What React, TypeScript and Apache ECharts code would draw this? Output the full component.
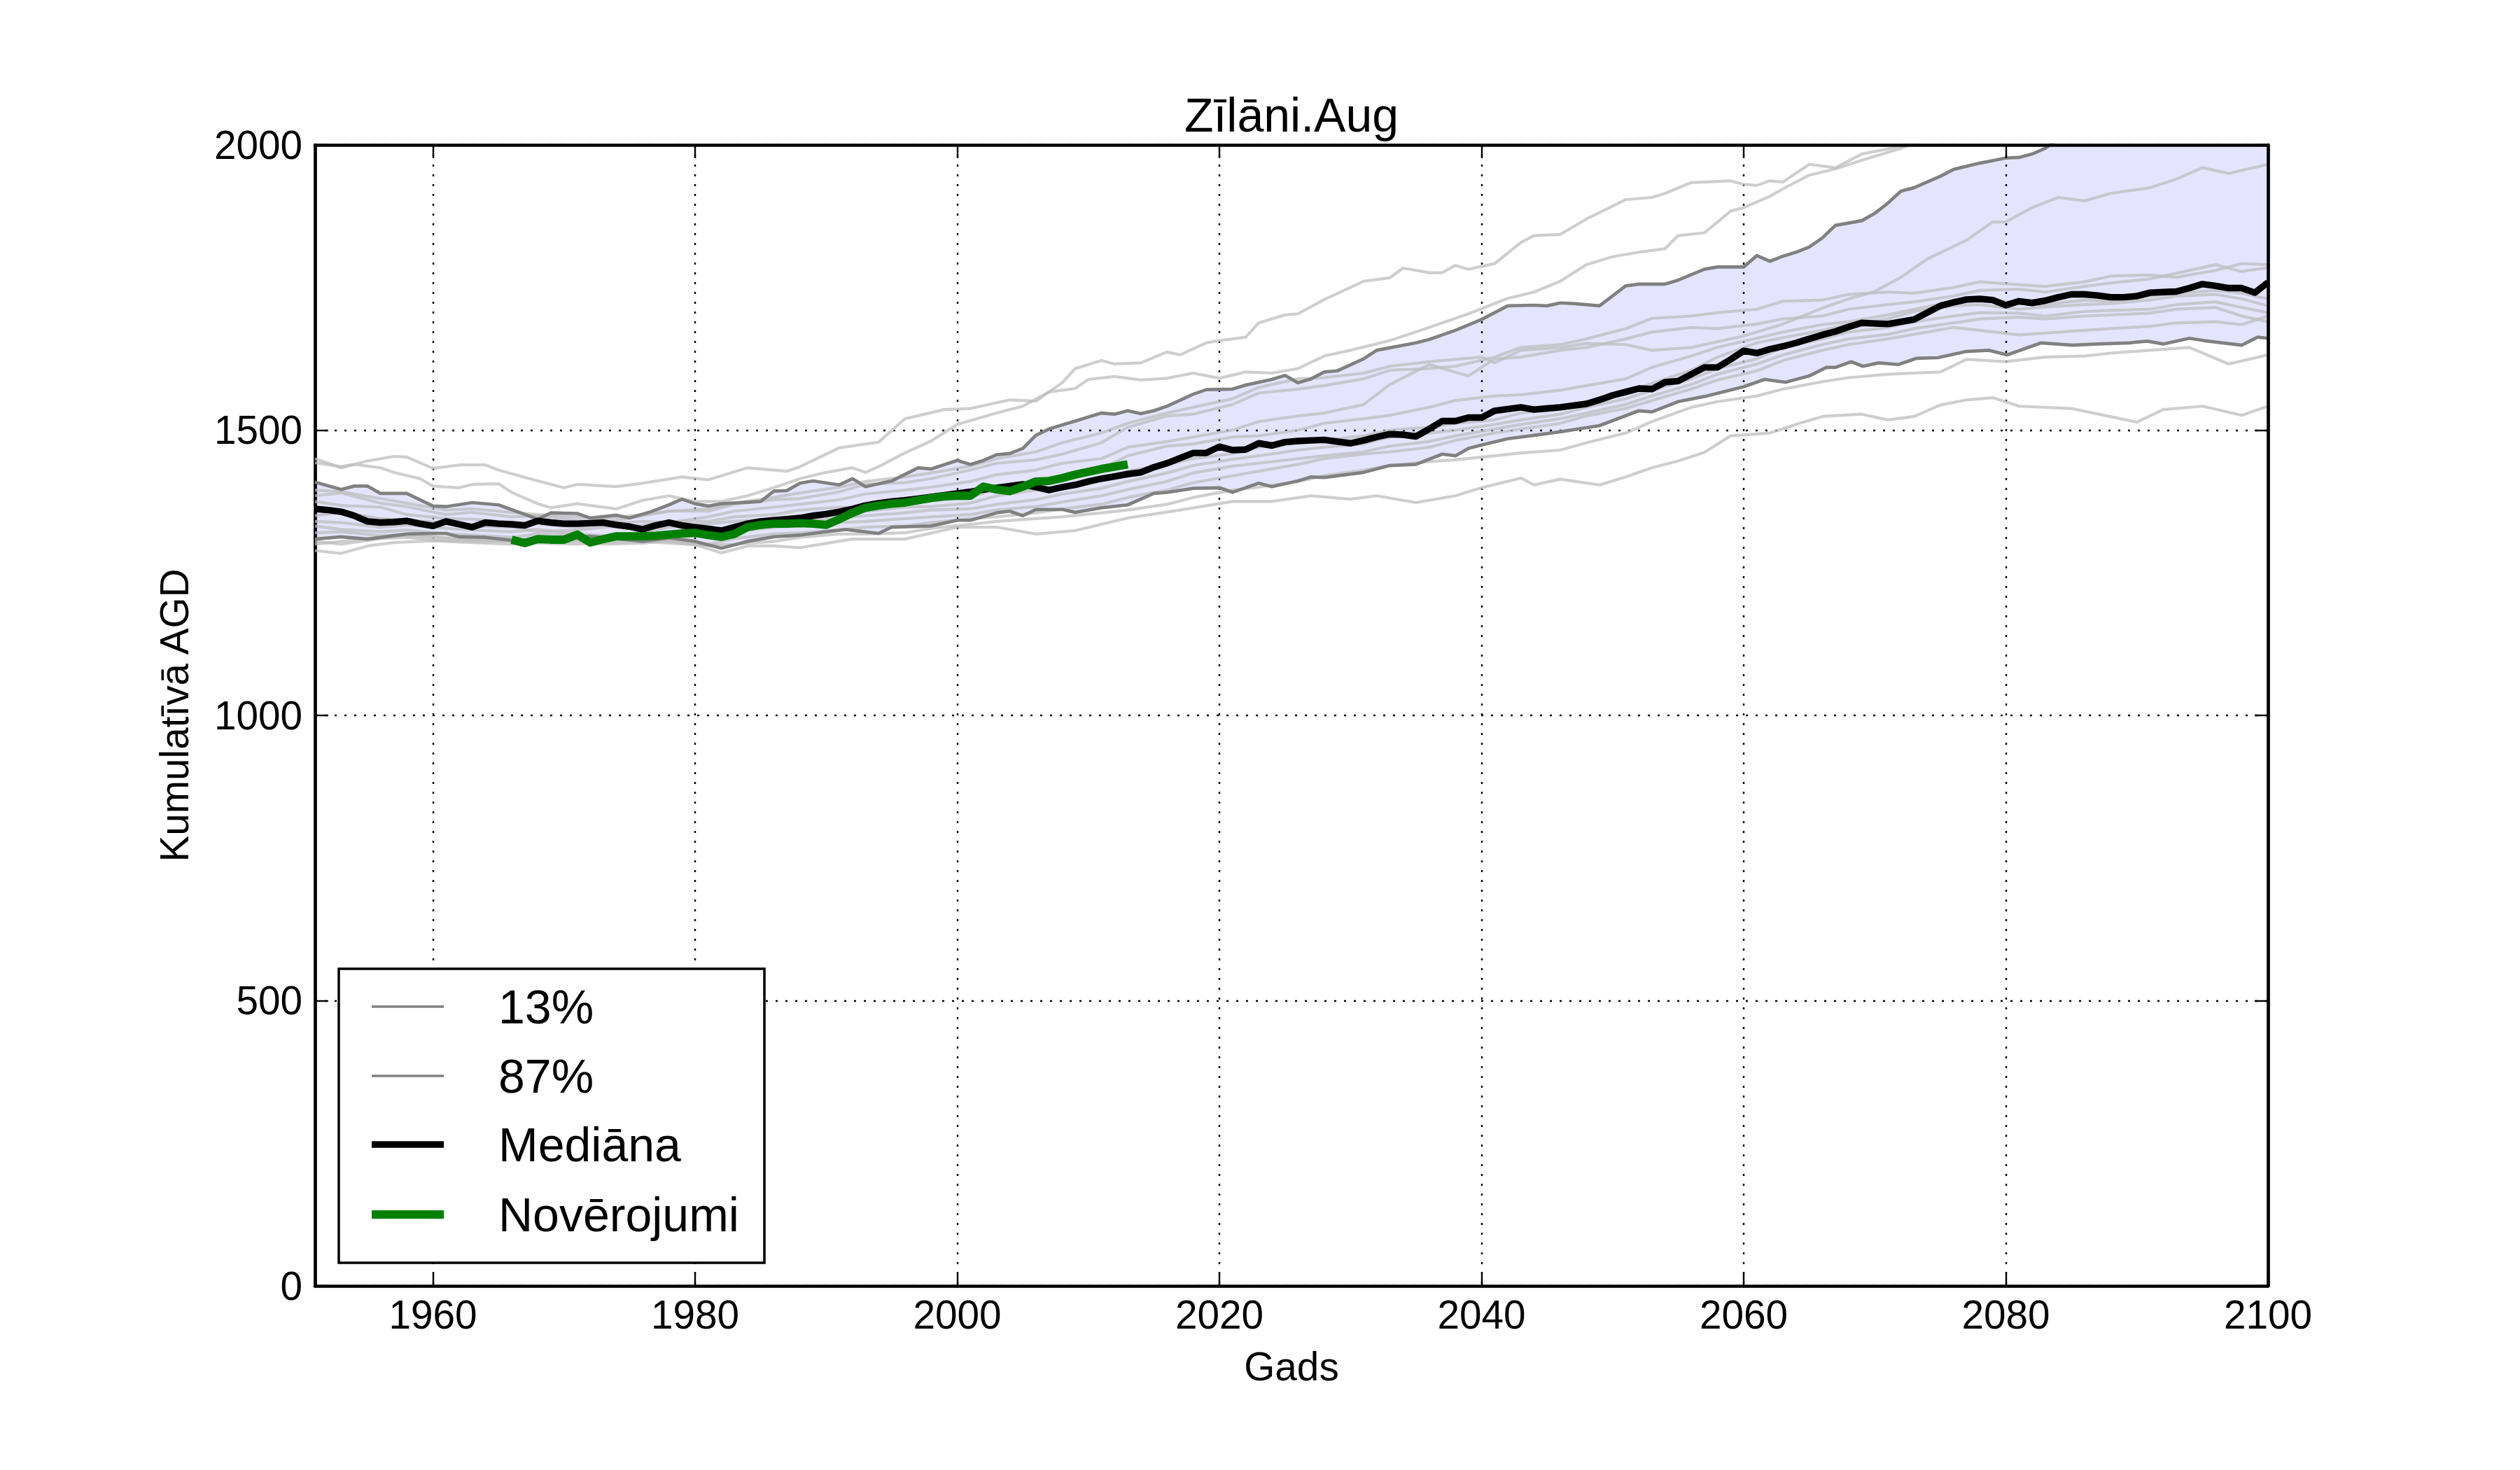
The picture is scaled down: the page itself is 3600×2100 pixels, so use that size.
import React, { useEffect, useRef } from "react";
import * as echarts from "echarts";

const FONT = "'Liberation Sans', Arial, Helvetica, sans-serif";

const xTicks = [1960, 1980, 2000, 2020, 2040, 2060, 2080, 2100];
const yMin = 0;
const yMax = 2000;
const yStep = 500;
const titleText = "Zīlāni.Aug";
const xName = "Gads";
const yName = "Kumulatīvā AGD";
const legendLabels = ["13%", "87%", "Mediāna", "Novērojumi"];

const median = [
  [1951,1362],[1952,1360],[1953,1357],[1954,1350],[1955,1340],[1956,1338],[1957,1339],[1958,1341],[1959,1336],[1960,1332],
  [1961,1340],[1962,1335],[1963,1330],[1964,1338],[1965,1336],[1966,1335],[1967,1333],[1968,1341],[1969,1338],[1970,1336],
  [1971,1336],[1972,1337],[1973,1338],[1974,1334],[1975,1331],[1976,1326],[1977,1333],[1978,1338],[1979,1333],[1980,1330],
  [1981,1327],[1982,1324],[1983,1330],[1984,1336],[1985,1340],[1986,1342],[1987,1344],[1988,1346],[1989,1350],[1990,1353],
  [1991,1357],[1992,1362],[1993,1368],[1994,1372],[1995,1375],[1996,1377],[1997,1380],[1998,1383],[1999,1386],[2000,1389],
  [2001,1392],[2002,1396],[2003,1399],[2004,1402],[2005,1405],[2006,1400],[2007,1395],[2008,1400],[2009,1404],[2010,1410],
  [2011,1415],[2012,1419],[2013,1423],[2014,1426],[2015,1435],[2016,1442],[2017,1451],[2018,1460],[2019,1460],[2020,1471],
  [2021,1465],[2022,1466],[2023,1477],[2024,1473],[2025,1479],[2026,1481],[2027,1482],[2028,1483],[2029,1480],[2030,1477],
  [2031,1482],[2032,1488],[2033,1493],[2034,1492],[2035,1489],[2036,1502],[2037,1516],[2038,1516],[2039,1522],[2040,1522],
  [2041,1534],[2042,1537],[2043,1540],[2044,1536],[2045,1538],[2046,1540],[2047,1543],[2048,1546],[2049,1553],[2050,1561],
  [2051,1567],[2052,1573],[2053,1572],[2054,1584],[2055,1586],[2056,1598],[2057,1610],[2058,1610],[2059,1624],[2060,1639],
  [2061,1635],[2062,1642],[2063,1647],[2064,1653],[2065,1660],[2066,1667],[2067,1673],[2068,1681],[2069,1688],[2070,1687],
  [2071,1686],[2072,1690],[2073,1694],[2074,1706],[2075,1718],[2076,1724],[2077,1729],[2078,1730],[2079,1728],[2080,1719],
  [2081,1726],[2082,1723],[2083,1727],[2084,1733],[2085,1738],[2086,1738],[2087,1736],[2088,1733],[2089,1733],[2090,1735],
  [2091,1741],[2092,1742],[2093,1743],[2094,1749],[2095,1756],[2096,1753],[2097,1749],[2098,1749],[2099,1741],[2100,1759]
];

const observed = [
  [1966,1308],[1967,1302],[1968,1309],[1969,1308],[1970,1308],[1971,1317],[1972,1303],[1973,1309],[1974,1314],[1975,1314],
  [1976,1314],[1977,1315],[1978,1317],[1979,1319],[1980,1320],[1981,1316],[1982,1313],[1983,1318],[1984,1330],[1985,1334],
  [1986,1336],[1987,1336],[1988,1337],[1989,1336],[1990,1334],[1991,1344],[1992,1355],[1993,1364],[1994,1368],[1995,1371],
  [1996,1373],[1997,1377],[1998,1381],[1999,1384],[2000,1385],[2001,1385],[2002,1401],[2003,1396],[2004,1393],[2005,1401],
  [2006,1410],[2007,1411],[2008,1416],[2009,1422],[2010,1427],[2011,1432],[2012,1436],[2013,1440]
];

const p13 = [
  [1951,1309],[1953,1313],[1955,1309],[1958,1318],[1960,1319],[1961,1319],[1962,1313],[1964,1312],[1966,1307],[1969,1309],
  [1972,1314],[1974,1310],[1976,1305],[1978,1311],[1980,1305],[1982,1293],[1984,1305],[1986,1313],[1988,1316],[1990,1322],
  [1991.5,1326],[1994,1319],[1995,1330],[1998,1332],[2000,1342],[2001,1342],[2003,1355],[2004,1358],[2005,1350],[2006,1361],
  [2008,1361],[2009,1356],[2011,1364],[2013,1369],[2015,1389],[2016,1391],[2018,1398],[2020,1399],[2021,1391],[2023,1407],
  [2024,1401],[2026,1411],[2027,1418],[2028,1417],[2031,1426],[2033,1438],[2035,1440],[2037,1458],[2038,1455],[2039,1468],
  [2040,1474],[2042,1485],[2044,1491],[2046,1497],[2049,1508],[2052,1534],[2053,1532],[2055,1550],[2057,1559],[2060,1576],
  [2061.6,1589],[2063.2,1584],[2065,1595],[2066.3,1610],[2067,1610],[2068.2,1620],[2069.1,1612],[2070.3,1618],[2071.8,1615],
  [2073.2,1626],[2074.8,1627],[2077,1638],[2078.7,1640],[2080.1,1632],[2082.7,1653],[2085.1,1649],[2087,1651],[2089.4,1653],
  [2090.8,1656],[2092,1651],[2094,1661],[2095.1,1657],[2098,1649],[2099.2,1663],[2100,1661]
];

const p87 = [
  [1951,1409],[1953,1396],[1954,1402],[1955,1402],[1956,1389],[1958,1389],[1960,1367],[1961,1366],[1963,1373],[1965,1369],
  [1968,1344],[1969,1355],[1971,1354],[1972,1346],[1974,1351],[1975,1346],[1976.5,1356],[1978,1369],[1979,1379],[1980,1371],
  [1981,1367],[1982,1371],[1985,1375],[1986,1393],[1987,1394],[1988,1407],[1989,1411],[1991,1404],[1992,1415],[1993,1401],
  [1995,1411],[1997,1434],[1998,1432],[2000,1447],[2001,1440],[2002,1447],[2003,1457],[2004,1459],[2005,1468],[2006,1491],
  [2007,1502],[2009,1516],[2011,1530],[2012,1528],[2013,1534],[2014,1529],[2015,1534],[2016,1542],[2018,1563],[2019,1571],
  [2021,1572],[2022,1579],[2024,1589],[2025,1596],[2026,1583],[2027,1590],[2028,1602],[2029,1604],[2031,1625],[2032,1640],
  [2035,1653],[2036,1659],[2038,1675],[2040,1694],[2042,1718],[2044,1719],[2045,1718],[2046,1723],[2047,1722],[2049,1718],
  [2051,1753],[2052,1756],[2054,1756],[2055,1763],[2057,1782],[2058,1786],[2060,1786],[2061,1806],[2062,1796],[2063,1805],
  [2064,1812],[2065,1821],[2066,1837],[2067,1859],[2069,1867],[2070,1880],[2071,1898],[2072,1919],[2073,1925],[2075,1945],
  [2076,1957],[2078,1968],[2080,1977],[2081,1978],[2082,1984],[2083,1994],[2084,2010],[2088,2040],[2094,2080],[2100,2110]
];

const runT1 = [
  [1951,1450],[1953,1434],[1955,1446],[1957,1454],[1958,1453],[1960,1433],[1962,1439],[1964,1439],[1965,1430],[1968,1411],
  [1970,1399],[1971,1405],[1974,1401],[1976,1407],[1979,1418],[1981,1413],[1984,1434],[1987,1428],[1988,1436],[1991,1469],
  [1994,1479],[1996,1520],[1999,1536],[2001,1538],[2004,1553],[2006,1551],[2008,1583],[2009,1608],[2011,1622],[2012,1616],
  [2014,1618],[2016,1637],[2017,1632],[2019,1653],[2020,1657],[2022,1663],[2023,1688],[2025,1702],[2026,1704],[2028,1729],
  [2031,1761],[2033,1767],[2034,1784],[2036,1776],[2037,1776],[2038,1789],[2039,1782],[2041,1792],[2043,1829],[2044,1841],
  [2046,1843],[2048,1870],[2051,1904],[2053,1908],[2054,1915],[2056,1934],[2059,1937],[2060,1931],[2061,1929],[2062,1937],
  [2063,1935],[2065,1966],[2067,1960],[2069,1984],[2071,1993],[2073,2002],[2076,2020],[2080,2040],[2090,2080],[2100,2110]
];

const runT2 = [
  [1951,1443],[1953,1436],[1954,1440],[1956,1434],[1957,1426],[1959,1415],[1960,1402],[1962,1399],[1963,1405],[1965,1406],
  [1966,1391],[1968,1371],[1969,1364],[1971,1371],[1974,1362],[1976,1377],[1978,1385],[1980,1375],[1982,1375],[1984,1385],
  [1986,1399],[1988,1415],[1990,1426],[1992,1434],[1993,1426],[1994,1436],[1996,1460],[1998,1481],[2000,1510],[2003,1530],
  [2005,1542],[2007,1567],[2009,1573],[2010,1589],[2012,1594],[2014,1588],[2016,1591],[2018,1600],[2020,1591],[2022,1602],
  [2024,1600],[2026,1608],[2028,1630],[2030,1640],[2033,1657],[2036,1680],[2039,1704],[2042,1731],[2044,1742],[2046,1761],
  [2048,1790],[2050,1804],[2052,1812],[2054,1818],[2055,1841],[2057,1846],[2059,1884],[2060,1890],[2061,1900],[2062,1910],
  [2063,1923],[2065,1947],[2067,1958],[2069,1973],[2072,1994],[2074,2010],[2080,2060],[2090,2120],[2100,2160]
];

const runA = [
  [1951,1395],[1953,1392],[1956,1380],[1958,1372],[1961,1360],[1963,1362],[1966,1356],[1968,1352],[1971,1348],[1973,1345],
  [1976,1352],[1978,1358],[1981,1362],[1983,1372],[1986,1382],[1988,1390],[1991,1400],[1993,1410],[1996,1418],[1998,1425],
  [2001,1437],[2003,1450],[2006,1462],[2008,1478],[2011,1495],[2013,1512],[2016,1530],[2018,1540],[2021,1555],[2023,1575],
  [2026,1590],[2028,1592],[2031,1600],[2033,1612],[2036,1620],[2040,1628],[2041,1618],[2043,1640],[2046,1645],[2048,1652],
  [2051,1650],[2053,1640],[2056,1645],[2060,1665],[2063,1686],[2066,1714],[2068,1730],[2070,1743],[2072,1768],[2074,1800],
  [2077,1833],[2079,1865],[2080,1865],[2082,1890],[2084,1908],[2086,1902],[2088,1915],[2091,1925],[2093,1940],[2095,1960],
  [2097,1950],[2100,1966]
];

const runI1 = [
  [1951,1385],[1953,1390],[1956,1372],[1958,1366],[1961,1352],[1963,1356],[1966,1348],[1968,1350],[1971,1342],[1973,1338],
  [1976,1350],[1978,1358],[1981,1358],[1983,1370],[1986,1378],[1988,1380],[1991,1392],[1993,1405],[1996,1408],[1998,1415],
  [2001,1430],[2003,1442],[2006,1448],[2008,1458],[2011,1478],[2013,1505],[2016,1525],[2018,1528],[2021,1545],[2023,1565],
  [2026,1572],[2028,1578],[2031,1590],[2033,1605],[2036,1608],[2038,1612],[2041,1628],[2043,1645],[2046,1650],[2048,1660],
  [2051,1678],[2053,1696],[2056,1700],[2058,1706],[2061,1712],[2063,1726],[2066,1728],[2068,1738],[2071,1742],[2073,1740],
  [2076,1750],[2078,1760],[2081,1755],[2083,1752],[2086,1760],[2088,1770],[2091,1772],[2093,1768],[2096,1780],[2098,1792],
  [2100,1790]
];

const runI2 = [
  [1951,1375],[1953,1368],[1956,1365],[1958,1352],[1961,1345],[1963,1344],[1966,1338],[1968,1336],[1971,1330],[1973,1336],
  [1976,1340],[1978,1338],[1981,1348],[1983,1358],[1986,1365],[1988,1370],[1991,1378],[1993,1388],[1996,1395],[1998,1400],
  [2001,1410],[2003,1422],[2006,1430],[2008,1442],[2011,1450],[2013,1470],[2016,1480],[2018,1488],[2021,1500],[2023,1515],
  [2026,1525],[2028,1530],[2031,1545],[2033,1580],[2036,1615],[2039,1595],[2041,1625],[2043,1628],[2046,1640],[2048,1645],
  [2051,1660],[2053,1672],[2056,1680],[2058,1678],[2061,1686],[2063,1695],[2066,1700],[2068,1712],[2071,1720],[2073,1725],
  [2076,1735],[2078,1745],[2081,1747],[2083,1742],[2086,1752],[2088,1758],[2091,1765],[2093,1775],[2096,1790],[2098,1778],
  [2100,1785]
];

const runI3 = [
  [1951,1350],[1953,1356],[1956,1345],[1958,1342],[1961,1338],[1963,1332],[1966,1330],[1968,1322],[1971,1325],[1973,1330],
  [1976,1333],[1978,1340],[1981,1340],[1983,1348],[1986,1352],[1988,1360],[1991,1365],[1993,1364],[1996,1372],[1998,1376],
  [2001,1382],[2003,1398],[2006,1412],[2008,1420],[2011,1432],[2013,1455],[2016,1472],[2018,1476],[2021,1488],[2023,1490],
  [2026,1500],[2028,1512],[2031,1520],[2033,1526],[2036,1540],[2038,1552],[2041,1560],[2043,1562],[2046,1570],[2048,1578],
  [2051,1590],[2053,1610],[2056,1630],[2058,1645],[2061,1661],[2063,1672],[2066,1685],[2068,1690],[2071,1702],[2073,1712],
  [2076,1725],[2078,1732],[2081,1722],[2083,1720],[2086,1728],[2088,1726],[2091,1735],[2093,1740],[2096,1745],[2098,1740],
  [2100,1730]
];

const runI4 = [
  [1951,1340],[1953,1338],[1956,1330],[1958,1334],[1961,1328],[1963,1325],[1966,1322],[1968,1326],[1971,1318],[1973,1315],
  [1976,1320],[1978,1330],[1981,1336],[1983,1340],[1986,1345],[1988,1348],[1991,1355],[1993,1358],[1996,1365],[1998,1366],
  [2001,1372],[2003,1385],[2006,1395],[2008,1400],[2011,1412],[2013,1428],[2016,1440],[2018,1450],[2021,1459],[2023,1470],
  [2026,1478],[2028,1482],[2031,1490],[2033,1500],[2036,1505],[2038,1512],[2041,1518],[2043,1530],[2046,1540],[2048,1550],
  [2051,1565],[2053,1582],[2056,1605],[2058,1628],[2061,1653],[2063,1662],[2066,1675],[2068,1685],[2071,1695],[2073,1708],
  [2076,1718],[2078,1720],[2081,1712],[2083,1716],[2086,1720],[2088,1722],[2091,1728],[2093,1735],[2096,1738],[2098,1730],
  [2100,1718]
];

const runI5 = [
  [1951,1332],[1953,1326],[1956,1322],[1958,1325],[1961,1318],[1963,1316],[1966,1312],[1968,1318],[1971,1316],[1973,1312],
  [1976,1310],[1978,1315],[1981,1322],[1983,1330],[1986,1338],[1988,1340],[1991,1346],[1993,1350],[1996,1355],[1998,1360],
  [2001,1362],[2003,1370],[2006,1378],[2008,1388],[2011,1398],[2013,1410],[2016,1425],[2018,1438],[2021,1449],[2023,1455],
  [2026,1465],[2028,1470],[2031,1476],[2033,1488],[2036,1495],[2038,1500],[2041,1510],[2043,1518],[2046,1528],[2048,1540],
  [2051,1555],[2053,1570],[2056,1590],[2058,1608],[2061,1625],[2063,1645],[2066,1660],[2068,1672],[2071,1680],[2073,1690],
  [2076,1700],[2078,1706],[2081,1705],[2083,1700],[2086,1708],[2088,1710],[2091,1712],[2093,1720],[2096,1725],[2098,1715],
  [2100,1706]
];

const runI6 = [
  [1951,1320],[1953,1322],[1956,1315],[1958,1318],[1961,1312],[1963,1308],[1966,1306],[1968,1312],[1971,1310],[1973,1306],
  [1976,1308],[1978,1312],[1981,1315],[1983,1322],[1986,1330],[1988,1332],[1991,1338],[1993,1340],[1996,1345],[1998,1348],
  [2001,1352],[2003,1360],[2006,1366],[2008,1374],[2011,1385],[2013,1396],[2016,1410],[2018,1425],[2021,1437],[2023,1442],
  [2026,1450],[2028,1455],[2031,1462],[2033,1472],[2036,1480],[2038,1490],[2041,1502],[2043,1510],[2046,1520],[2048,1530],
  [2051,1545],[2053,1560],[2056,1580],[2058,1598],[2061,1616],[2063,1632],[2066,1650],[2068,1660],[2071,1668],[2073,1678],
  [2076,1688],[2078,1695],[2081,1698],[2083,1695],[2086,1700],[2088,1702],[2091,1705],[2093,1712],[2096,1715],[2098,1700],
  [2100,1690]
];

const runI7 = [
  [1951,1305],[1953,1300],[1956,1310],[1958,1312],[1961,1305],[1963,1303],[1966,1300],[1968,1304],[1971,1305],[1973,1300],
  [1976,1302],[1978,1306],[1981,1300],[1983,1310],[1986,1318],[1988,1320],[1991,1325],[1993,1330],[1996,1332],[1998,1338],
  [2001,1345],[2003,1348],[2006,1355],[2008,1362],[2011,1370],[2013,1382],[2016,1395],[2018,1408],[2021,1420],[2023,1428],
  [2026,1440],[2028,1450],[2031,1458],[2033,1462],[2036,1470],[2038,1482],[2041,1495],[2043,1502],[2046,1512],[2048,1525],
  [2051,1538],[2053,1552],[2056,1572],[2058,1588],[2061,1604],[2063,1622],[2066,1640],[2068,1650],[2071,1660],[2073,1668],
  [2076,1680],[2078,1675],[2081,1667],[2083,1670],[2086,1675],[2088,1678],[2091,1682],[2093,1688],[2096,1690],[2098,1685],
  [2100,1700]
];

const runH = [
  [1951,1300],[1953,1305],[1956,1312],[1958,1315],[1961,1310],[1963,1308],[1966,1305],[1968,1302],[1971,1300],[1973,1303],
  [1976,1305],[1978,1302],[1981,1298],[1983,1300],[1986,1305],[1988,1312],[1991,1318],[1993,1318],[1996,1320],[1998,1328],
  [2001,1335],[2003,1340],[2006,1345],[2008,1348],[2011,1355],[2013,1360],[2016,1370],[2018,1382],[2021,1395],[2023,1400],
  [2026,1410],[2028,1420],[2031,1430],[2033,1438],[2036,1445],[2038,1448],[2041,1455],[2043,1460],[2046,1465],[2048,1478],
  [2051,1495],[2053,1515],[2056,1540],[2058,1550],[2061,1560],[2063,1572],[2066,1585],[2068,1592],[2071,1598],[2073,1600],
  [2075,1602],[2077,1624],[2080,1620],[2083,1628],[2086,1630],[2088,1635],[2091,1640],[2094,1645],[2097,1616],[2100,1632]
];

const runLow = [
  [1951,1289],[1953,1284],[1955,1297],[1957,1303],[1960,1306],[1964,1305],[1968,1308],[1972,1306],[1976,1308],[1978,1305],
  [1980,1299],[1982,1285],[1984,1297],[1986,1297],[1988,1294],[1992,1309],[1996,1309],[2000,1330],[2003,1330],[2006,1318],
  [2009,1324],[2013,1346],[2017,1360],[2021,1375],[2024,1375],[2027,1385],[2030,1379],[2032,1385],[2035,1373],[2038,1385],
  [2040,1399],[2043,1416],[2044,1404],[2046,1414],[2049,1404],[2051,1418],[2053,1434],[2055,1446],[2057,1461],[2059,1490],
  [2062,1495],[2064,1510],[2066,1524],[2069,1528],[2071,1518],[2073,1524],[2075,1544],[2077,1553],[2079,1557],[2081,1542],
  [2085,1538],[2090,1514],[2092,1536],[2095,1542],[2098,1526],[2100,1542]
];

const ensembleRuns = [runT1, runT2, runA, runI1, runI2, runI3, runI4, runI5, runI6, runI7, runH, runLow];

export default function App() {
  const ref = useRef<HTMLDivElement>(null);

  useEffect(() => {
    document.body.style.margin = "0";
    if (!ref.current) return;
    const chart = echarts.init(ref.current, null, { renderer: "svg" });

    const gridLeft = 450, gridRight = 360, gridTop = 207, gridBottom = 263;
    const plotW = 3600 - gridLeft - gridRight;
    const plotCx = gridLeft + plotW / 2;
    const plotCy = gridTop + (2100 - gridTop - gridBottom) / 2;

    const line = (name: string, data: number[][], color: string, width: number, z: number, opacity = 1) => ({
      type: "line",
      name,
      data,
      symbol: "none",
      showSymbol: false,
      clip: true,
      silent: true,
      z,
      lineStyle: { color, width, opacity, join: "round", cap: "butt" },
      itemStyle: { color },
      emphasis: { disabled: true },
    });

    const series: any[] = [];
    series.push({
      type: "custom",
      name: "band",
      silent: true,
      clip: true,
      z: 1,
      data: [[1951, 0]],
      renderItem: (_params: any, api: any) => {
        const up = p87.map((p) => api.coord([p[0], Math.min(p[1], yMax)]));
        const lo = p13.slice().reverse().map((p) => api.coord([p[0], Math.min(p[1], yMax)]));
        return {
          type: "polygon",
          shape: { points: up.concat(lo) },
          style: { fill: "rgba(0,0,255,0.105)", stroke: "none" },
        };
      },
    });
    ensembleRuns.forEach((r, i) => series.push(line("run" + i, r, "#bdbdbd", 4.2, 2, 0.75)));
    series.push(line(legendLabels[0], p13, "#808080", 4.7, 3));
    series.push(line(legendLabels[1], p87, "#808080", 4.7, 3));
    series.push(line(legendLabels[2], median, "#000000", 9.4, 4));
    series.push(line(legendLabels[3], observed, "#008000", 11.8, 5));

    const axisLine = { show: true, onZero: false, lineStyle: { color: "#000", width: 4.7 } };
    const tick = { show: true, inside: true, length: 19, lineStyle: { color: "#000", width: 2.4 } };
    const split = { show: true, lineStyle: { color: "#000", width: 2.4, type: [3, 11] } };
    const labelStyle = { color: "#000", fontSize: 56.7, fontFamily: FONT, formatter: (v: number) => String(v) };

    const legendRowY = [1438, 1537, 1635, 1735];
    const legendColors = ["#808080", "#808080", "#000000", "#008000"];
    const legendWidths = [3.5, 3.5, 9.4, 11.8];

    const txt = (text: string, x: number, y: number, fs: number, align = "center", rotation = 0, z = 100) => ({
      type: "text",
      x,
      y,
      rotation,
      z,
      style: { text, fontSize: fs, fontFamily: FONT, fill: "#000", align, verticalAlign: "middle", textAlign: align, textVerticalAlign: "middle" },
    });

    const graphics: any[] = [
      txt(titleText, plotCx, 164, 68),
      txt(xName, plotCx, 1952, 56.7),
      txt(yName, 249, plotCy, 56.7, "center", Math.PI / 2),
      {
        type: "rect",
        z: 100,
        shape: { x: 484, y: 1384, width: 608, height: 420 },
        style: { fill: "#fff", stroke: "#000", lineWidth: 3.5 },
      },
    ];
    legendLabels.forEach((lab, i) => {
      graphics.push({
        type: "line",
        z: 101,
        shape: { x1: 531, y1: legendRowY[i], x2: 634, y2: legendRowY[i] },
        style: { stroke: legendColors[i], lineWidth: legendWidths[i] },
      });
      graphics.push(txt(lab, 712, legendRowY[i], 68, "left", 0, 101));
    });

    chart.setOption({
      animation: false,
      backgroundColor: "#fff",
      grid: { left: gridLeft, right: gridRight, top: gridTop, bottom: gridBottom, containLabel: false },
      xAxis: [
        {
          type: "value",
          min: 1951,
          max: 2100,
          splitNumber: 7,
          position: "bottom",
          axisLine,
          axisTick: { ...tick, customValues: xTicks },
          axisLabel: { ...labelStyle, margin: 13, customValues: xTicks, showMinLabel: true, showMaxLabel: true },
          splitLine: split,
        },
        {
          type: "value",
          min: 1951,
          max: 2100,
          splitNumber: 7,
          position: "top",
          z: 10,
          axisLine,
          axisTick: { ...tick, customValues: xTicks },
          axisLabel: { show: false },
          splitLine: { show: false },
        },
      ],
      yAxis: [
        {
          type: "value",
          min: yMin,
          max: yMax,
          interval: yStep,
          position: "left",
          axisLine,
          axisTick: tick,
          axisLabel: { ...labelStyle, margin: 18 },
          splitLine: split,
        },
        {
          type: "value",
          min: yMin,
          max: yMax,
          interval: yStep,
          position: "right",
          z: 10,
          axisLine,
          axisTick: tick,
          axisLabel: { show: false },
          splitLine: { show: false },
        },
      ],
      series,
      graphic: graphics,
    });

    return () => chart.dispose();
  }, []);

  return <div ref={ref} style={{ width: 3600, height: 2100 }} />;
}
